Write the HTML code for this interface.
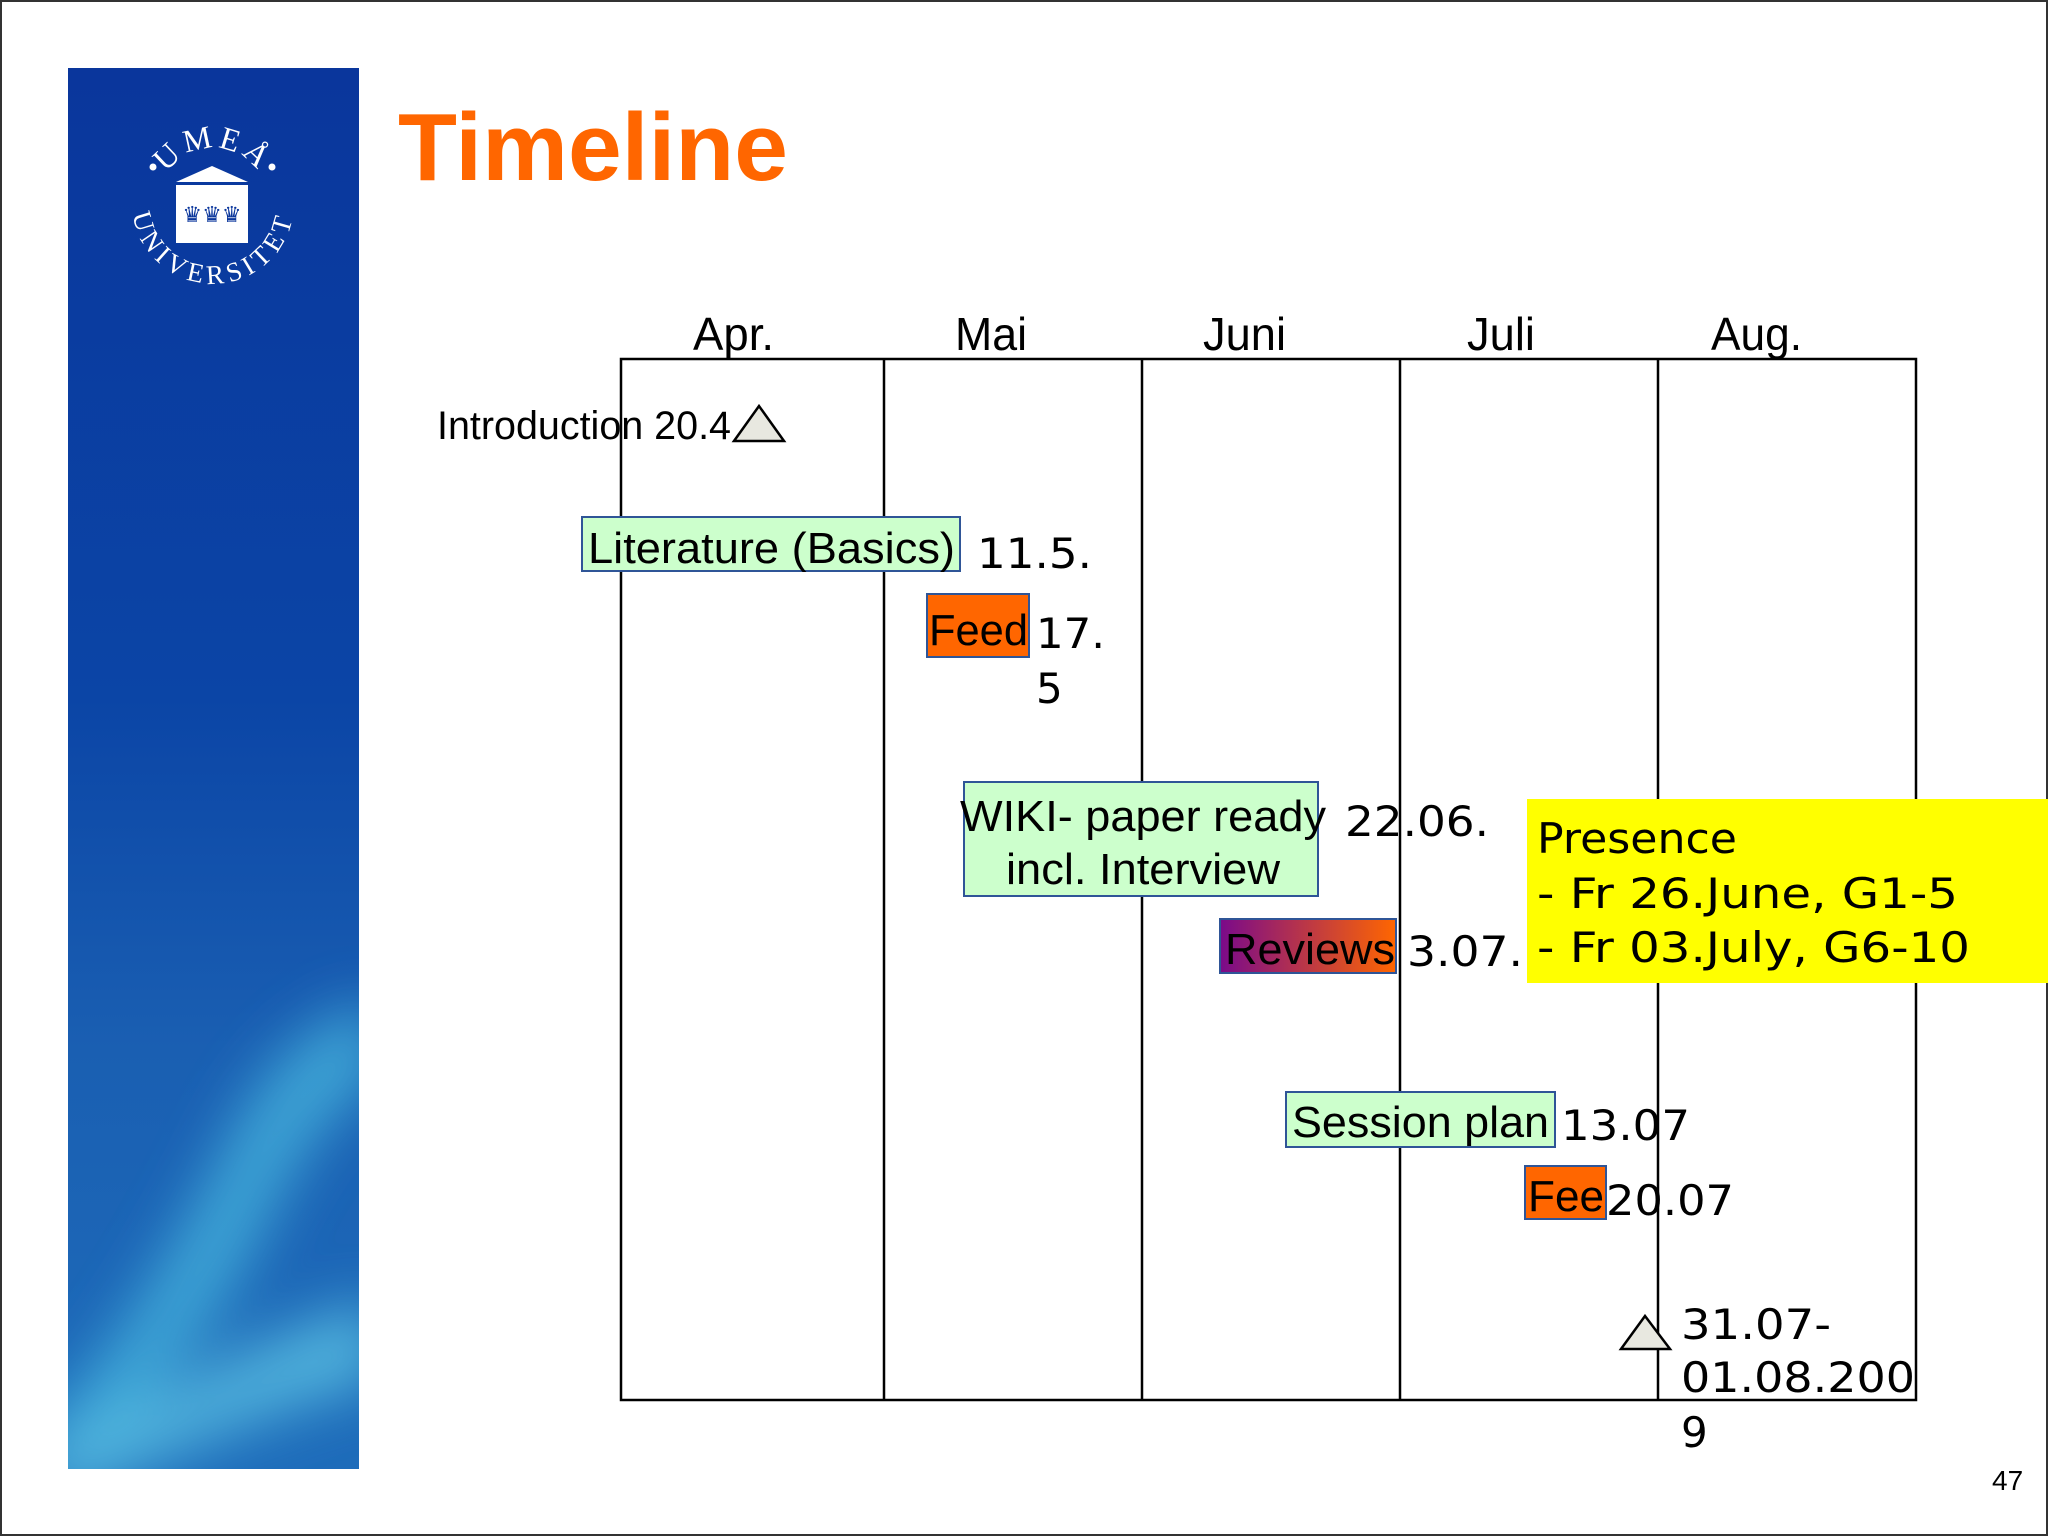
<!DOCTYPE html>
<html><head><meta charset="utf-8"><style>
html,body{margin:0;padding:0;background:#fff}
svg{display:block}
.lab{font-family:"Liberation Sans",Arial,sans-serif;fill:#000}
.dt{font-family:"DejaVu Sans",Verdana,sans-serif;fill:#000}
</style></head><body>
<svg width="2048" height="1536" viewBox="0 0 2048 1536" xmlns="http://www.w3.org/2000/svg">
<defs>
<linearGradient id="bg" x1="0" y1="0" x2="0" y2="1">
<stop offset="0" stop-color="#0a369c"/><stop offset="0.45" stop-color="#0b45a6"/><stop offset="0.7" stop-color="#1a5fb2"/><stop offset="1" stop-color="#1e6cba"/>
</linearGradient>
<linearGradient id="rev" x1="0" y1="0" x2="1" y2="0"><stop offset="0" stop-color="#7a0a8a"/><stop offset="1" stop-color="#ff6600"/></linearGradient>
<filter id="blur" x="-50%" y="-50%" width="200%" height="200%"><feGaussianBlur stdDeviation="30"/></filter>
<clipPath id="pc"><rect x="68" y="68" width="291" height="1401"/></clipPath>
<path id="arcTop" d="M163,180 A55,55 0 0 1 263,180"/>
<path id="arcBot" d="M133,190 A81,81 0 1 0 293,190"/>
</defs>
<rect x="1" y="1" width="2046" height="1534" fill="#fff" stroke="#333" stroke-width="2"/>
<g clip-path="url(#pc)">
<rect x="68" y="68" width="291" height="1401" fill="url(#bg)"/>
<g filter="url(#blur)" opacity="0.7">
<path d="M40,1430 C130,1340 190,1220 240,1120 C280,1050 320,1020 380,1000 L380,1080 C320,1110 290,1170 250,1250 C200,1340 130,1430 40,1490Z" fill="#4fc6e6"/>
<path d="M40,1450 C150,1410 250,1340 380,1300 L380,1380 C260,1410 160,1460 40,1510Z" fill="#6ad8ee"/>
</g>
</g>
<g fill="#fff">
<text font-family="Liberation Serif,serif" font-size="32" fill="#fff"><textPath href="#arcTop" startOffset="50%" text-anchor="middle" letter-spacing="4">UMEÅ</textPath></text>
<text font-family="Liberation Serif,serif" font-size="27" fill="#fff"><textPath href="#arcBot" startOffset="50%" text-anchor="middle" letter-spacing="5">UNIVERSITET</textPath></text>
<circle cx="153" cy="167" r="3.5"/><circle cx="272" cy="167" r="3.5"/>
<polygon points="176,182 212,166 248,182"/>
<rect x="176" y="185" width="72" height="58"/>
<text x="212" y="222" text-anchor="middle" font-size="22" fill="#0a369c" font-family="DejaVu Sans,sans-serif">♛♛♛</text>
</g>
<text x="398" y="180" font-family="Liberation Sans,Arial,sans-serif" font-weight="bold" font-size="96" fill="#ff6600" textLength="390" lengthAdjust="spacingAndGlyphs">Timeline</text>

<g class="lab" font-size="46">
<text x="693" y="350" textLength="81" lengthAdjust="spacingAndGlyphs">Apr.</text>
<text x="955" y="350" textLength="72" lengthAdjust="spacingAndGlyphs">Mai</text>
<text x="1203" y="350" textLength="83" lengthAdjust="spacingAndGlyphs">Juni</text>
<text x="1467" y="350" textLength="68" lengthAdjust="spacingAndGlyphs">Juli</text>
<text x="1711" y="350" textLength="91" lengthAdjust="spacingAndGlyphs">Aug.</text>
</g>
<g stroke="#000" stroke-width="2.5" fill="none">
<rect x="621" y="359" width="1295" height="1041"/>
<line x1="884" y1="359" x2="884" y2="1400"/>
<line x1="1142" y1="359" x2="1142" y2="1400"/>
<line x1="1400" y1="359" x2="1400" y2="1400"/>
<line x1="1658" y1="359" x2="1658" y2="1400"/>
</g>

<text class="lab" x="437" y="439" font-size="40" textLength="294" lengthAdjust="spacingAndGlyphs">Introduction 20.4</text>
<polygon points="734,441 759,406 784,441" fill="#e8e8e0" stroke="#000" stroke-width="2.5"/>

<rect x="582" y="517" width="378" height="54" fill="#ccffcc" stroke="#2f5597" stroke-width="2"/>
<text class="lab" x="588" y="563" font-size="44" textLength="367" lengthAdjust="spacingAndGlyphs">Literature (Basics)</text>
<text class="dt" x="977" y="568" font-size="42" textLength="115" lengthAdjust="spacingAndGlyphs">11.5.</text>

<rect x="927" y="594" width="102" height="63" fill="#ff6600" stroke="#2f5597" stroke-width="2"/>
<text class="lab" x="929" y="645" font-size="44" textLength="99" lengthAdjust="spacingAndGlyphs">Feed</text>
<text class="dt" x="1036" y="648" font-size="42" textLength="69" lengthAdjust="spacingAndGlyphs">17.</text>
<text class="dt" x="1036" y="703" font-size="42">5</text>

<rect x="964" y="782" width="354" height="114" fill="#ccffcc" stroke="#2f5597" stroke-width="2"/>
<text class="lab" x="960" y="831" font-size="44" textLength="366" lengthAdjust="spacingAndGlyphs">WIKI- paper ready</text>
<text class="lab" x="1006" y="884" font-size="44" textLength="274" lengthAdjust="spacingAndGlyphs">incl. Interview</text>
<text class="dt" x="1345" y="836" font-size="42" textLength="144" lengthAdjust="spacingAndGlyphs">22.06.</text>

<rect x="1527" y="799" width="521" height="184" fill="#ffff00"/>
<text class="dt" x="1537" y="853" font-size="42" textLength="200" lengthAdjust="spacingAndGlyphs">Presence</text>
<text class="dt" x="1537" y="908" font-size="42" textLength="421" lengthAdjust="spacingAndGlyphs">- Fr 26.June, G1-5</text>
<text class="dt" x="1537" y="962" font-size="42" textLength="433" lengthAdjust="spacingAndGlyphs">- Fr 03.July, G6-10</text>

<rect x="1220" y="919" width="176" height="54" fill="url(#rev)" stroke="#2f5597" stroke-width="2"/>
<text class="lab" x="1225" y="964" font-size="44" textLength="170" lengthAdjust="spacingAndGlyphs">Reviews</text>
<text class="dt" x="1407" y="966" font-size="42" textLength="116" lengthAdjust="spacingAndGlyphs">3.07.</text>

<rect x="1286" y="1092" width="269" height="55" fill="#ccffcc" stroke="#2f5597" stroke-width="2"/>
<text class="lab" x="1292" y="1137" font-size="44" textLength="257" lengthAdjust="spacingAndGlyphs">Session plan</text>
<text class="dt" x="1561" y="1140" font-size="42" textLength="129" lengthAdjust="spacingAndGlyphs">13.07</text>

<rect x="1525" y="1166" width="81" height="53" fill="#ff6600" stroke="#2f5597" stroke-width="2"/>
<text class="lab" x="1528" y="1211" font-size="44" textLength="76" lengthAdjust="spacingAndGlyphs">Fee</text>
<text class="dt" x="1606" y="1215" font-size="42" textLength="128" lengthAdjust="spacingAndGlyphs">20.07</text>

<polygon points="1621,1349 1645,1316 1670,1349" fill="#e8e8e0" stroke="#000" stroke-width="2.5"/>
<text class="dt" x="1681" y="1339" font-size="42" textLength="150" lengthAdjust="spacingAndGlyphs">31.07-</text>
<text class="dt" x="1681" y="1392" font-size="42" textLength="234" lengthAdjust="spacingAndGlyphs">01.08.200</text>
<text class="dt" x="1681" y="1447" font-size="42">9</text>

<text class="lab" x="1992" y="1490" font-size="28">47</text>
</svg>
</body></html>
